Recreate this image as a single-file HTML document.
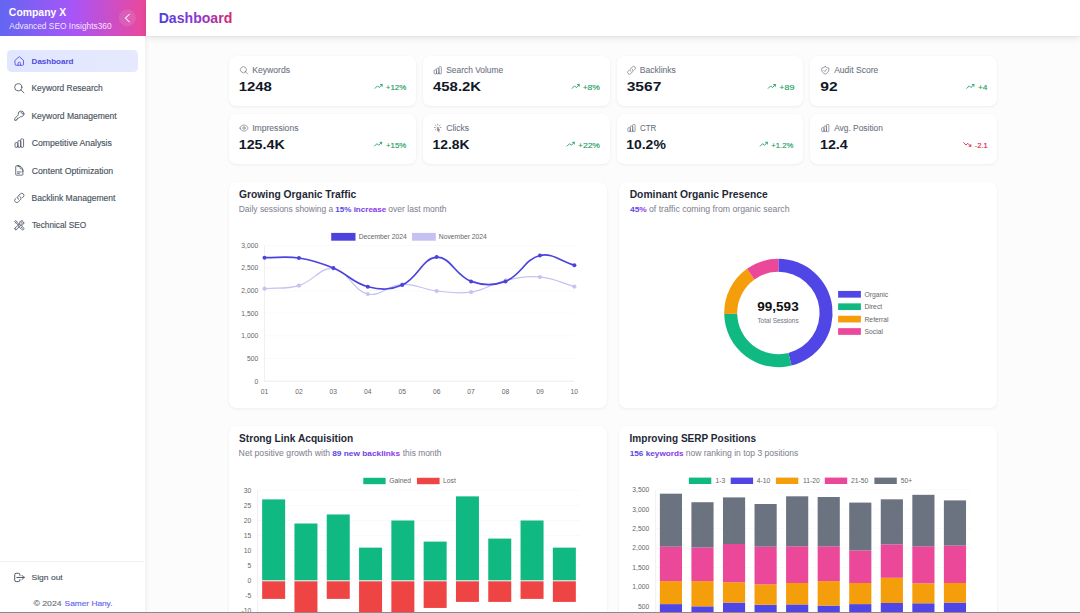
<!DOCTYPE html>
<html><head><meta charset="utf-8"><style>
html,body{margin:0;padding:0;}
body{width:1080px;height:613px;overflow:hidden;position:relative;background:#fcfcfc;font-family:"Liberation Sans", sans-serif;}
svg text{font-family:"Liberation Sans", sans-serif;}
</style></head><body>
<div style="position:absolute;left:0px;top:0px;width:145px;height:613px;background:#fff;box-shadow:1px 0 4px rgba(0,0,0,0.07);z-index:1;"></div><div style="position:absolute;left:0px;top:0px;width:145.6px;height:35.8px;background:linear-gradient(90deg,#6366f1 0%,#a855f7 50%,#ec4899 100%);z-index:1;"></div><div style="position:absolute;left:145.5px;top:0px;width:934.5px;height:36px;background:#fff;box-shadow:0 1px 2px rgba(0,0,0,0.06),0 3px 7px rgba(0,0,0,0.07);z-index:2;"></div><div style="position:absolute;left:7px;top:50px;width:131px;height:22px;background:linear-gradient(90deg,#e0e7ff,#e6e9fd);border-radius:4.5px;z-index:1;"></div><div style="position:absolute;left:0px;top:560.5px;width:144px;height:0.8px;background:#eef0f2;z-index:1;"></div><div style="position:absolute;left:229.4px;top:55.75px;width:186.8px;height:50px;background:#fff;border-radius:6.75px;box-shadow:0 1px 3px rgba(0,0,0,0.06),0 0 1px rgba(0,0,0,0.04);"></div><div style="position:absolute;left:423.0px;top:55.75px;width:186.8px;height:50px;background:#fff;border-radius:6.75px;box-shadow:0 1px 3px rgba(0,0,0,0.06),0 0 1px rgba(0,0,0,0.04);"></div><div style="position:absolute;left:616.6px;top:55.75px;width:186.8px;height:50px;background:#fff;border-radius:6.75px;box-shadow:0 1px 3px rgba(0,0,0,0.06),0 0 1px rgba(0,0,0,0.04);"></div><div style="position:absolute;left:810.2px;top:55.75px;width:186.8px;height:50px;background:#fff;border-radius:6.75px;box-shadow:0 1px 3px rgba(0,0,0,0.06),0 0 1px rgba(0,0,0,0.04);"></div><div style="position:absolute;left:229.4px;top:113.5px;width:186.8px;height:50px;background:#fff;border-radius:6.75px;box-shadow:0 1px 3px rgba(0,0,0,0.06),0 0 1px rgba(0,0,0,0.04);"></div><div style="position:absolute;left:423.0px;top:113.5px;width:186.8px;height:50px;background:#fff;border-radius:6.75px;box-shadow:0 1px 3px rgba(0,0,0,0.06),0 0 1px rgba(0,0,0,0.04);"></div><div style="position:absolute;left:616.6px;top:113.5px;width:186.8px;height:50px;background:#fff;border-radius:6.75px;box-shadow:0 1px 3px rgba(0,0,0,0.06),0 0 1px rgba(0,0,0,0.04);"></div><div style="position:absolute;left:810.2px;top:113.5px;width:186.8px;height:50px;background:#fff;border-radius:6.75px;box-shadow:0 1px 3px rgba(0,0,0,0.06),0 0 1px rgba(0,0,0,0.04);"></div><div style="position:absolute;left:229.4px;top:182px;width:377.8px;height:226px;background:#fff;border-radius:6.75px;box-shadow:0 1px 3px rgba(0,0,0,0.06),0 0 1px rgba(0,0,0,0.04);"></div><div style="position:absolute;left:619.2px;top:182px;width:377.8px;height:226px;background:#fff;border-radius:6.75px;box-shadow:0 1px 3px rgba(0,0,0,0.06),0 0 1px rgba(0,0,0,0.04);"></div><div style="position:absolute;left:229.4px;top:426px;width:377.8px;height:260px;background:#fff;border-radius:6.75px;box-shadow:0 1px 3px rgba(0,0,0,0.06),0 0 1px rgba(0,0,0,0.04);"></div><div style="position:absolute;left:619.2px;top:426px;width:377.8px;height:260px;background:#fff;border-radius:6.75px;box-shadow:0 1px 3px rgba(0,0,0,0.06),0 0 1px rgba(0,0,0,0.04);"></div><div style="position:absolute;left:0px;top:612px;width:1080px;height:1px;background:#8a8a8a;z-index:5;"></div>
<svg width="1080" height="613" viewBox="0 0 1080 613" style="position:absolute;left:0;top:0;z-index:3">
<defs><linearGradient id="hg" gradientUnits="userSpaceOnUse" x1="159.6" x2="231.3" y1="0" y2="0"><stop offset="0" stop-color="#4a43d6"/><stop offset="0.5" stop-color="#8b35d6"/><stop offset="1" stop-color="#cf2a72"/></linearGradient><linearGradient id="g1" gradientUnits="userSpaceOnUse" x1="335.8" x2="386.0" y1="0" y2="0"><stop offset="0" stop-color="#4f46e5"/><stop offset="1" stop-color="#9333ea"/></linearGradient><linearGradient id="g2" gradientUnits="userSpaceOnUse" x1="630.2" x2="646.6" y1="0" y2="0"><stop offset="0" stop-color="#4f46e5"/><stop offset="1" stop-color="#9333ea"/></linearGradient><linearGradient id="g3" gradientUnits="userSpaceOnUse" x1="332.4" x2="399.8" y1="0" y2="0"><stop offset="0" stop-color="#4f46e5"/><stop offset="1" stop-color="#9333ea"/></linearGradient><linearGradient id="g4" gradientUnits="userSpaceOnUse" x1="630.2" x2="683.3" y1="0" y2="0"><stop offset="0" stop-color="#4f46e5"/><stop offset="1" stop-color="#9333ea"/></linearGradient></defs>
<text x="8.86" y="15.90" font-size="11.0" font-weight="700" fill="#fff" textLength="57.31" lengthAdjust="spacingAndGlyphs" >Company X</text><text x="9.30" y="28.60" font-size="8.3" font-weight="400" fill="rgba(255,255,255,0.88)" textLength="102.39" lengthAdjust="spacingAndGlyphs" >Advanced SEO Insights360</text><circle cx="127.3" cy="18.1" r="8.5" fill="rgba(255,255,255,0.10)"/><path d="M129.3 14.4 L125.4 18.1 L129.3 21.9" fill="none" stroke="rgba(255,255,255,0.85)" stroke-width="1.1" stroke-linecap="round" stroke-linejoin="round"/><path d="M3.2 10.6 L12 3 L20.8 10.6 V19.6 A1.6 1.6 0 0 1 19.2 21.2 H4.8 A1.6 1.6 0 0 1 3.2 19.6 Z M9.4 21.2 V17.4 A2.6 2.6 0 0 1 14.6 17.4 V21.2" transform="translate(13.60,55.20) scale(0.4750)" fill="none" stroke="#4f46e5" stroke-width="1.75" stroke-linecap="round" stroke-linejoin="round" /><text x="31.59" y="63.90" font-size="7.85" font-weight="700" fill="#5049e0" textLength="41.95" lengthAdjust="spacingAndGlyphs" >Dashboard</text><path d="M21 21l-6-6m2-5a7 7 0 11-14 0 7 7 0 0114 0z" transform="translate(13.10,82.10) scale(0.5167)" fill="none" stroke="#4b5563" stroke-width="1.65" stroke-linecap="round" stroke-linejoin="round" /><text x="31.45" y="91.30" font-size="8.15" font-weight="400" fill="#4b5563" stroke="#4b5563" stroke-width="0.15" textLength="71.17" lengthAdjust="spacingAndGlyphs" >Keyword Research</text><path d="M15.75 5.25a3 3 0 0 1 3 3m3 0a6 6 0 0 1-7.029 5.912c-.563-.097-1.159.026-1.563.43L10.5 17.25H8.25v2.25H6v2.25H2.25v-2.818c0-.597.237-1.17.659-1.591l6.499-6.499c.404-.404.527-1 .43-1.563A6 6 0 1 1 21.75 8.25Z" transform="translate(13.60,110.00) scale(0.4750)" fill="none" stroke="#4b5563" stroke-width="1.75" stroke-linecap="round" stroke-linejoin="round" /><text x="31.45" y="118.70" font-size="8.15" font-weight="400" fill="#4b5563" stroke="#4b5563" stroke-width="0.15" textLength="85.26" lengthAdjust="spacingAndGlyphs" >Keyword Management</text><path d="M9 19v-6a2 2 0 00-2-2H5a2 2 0 00-2 2v6a2 2 0 002 2h2a2 2 0 002-2zm0 0V9a2 2 0 012-2h2a2 2 0 012 2v10m-6 0a2 2 0 002 2h2a2 2 0 002-2m0 0V5a2 2 0 012-2h2a2 2 0 012 2v14a2 2 0 01-2 2h-2a2 2 0 01-2-2z" transform="translate(13.60,137.40) scale(0.4750)" fill="none" stroke="#4b5563" stroke-width="1.75" stroke-linecap="round" stroke-linejoin="round" /><text x="31.69" y="146.10" font-size="8.15" font-weight="400" fill="#4b5563" stroke="#4b5563" stroke-width="0.15" textLength="80.20" lengthAdjust="spacingAndGlyphs" >Competitive Analysis</text><path d="M19.5 14.25v-2.625a3.375 3.375 0 0 0-3.375-3.375h-1.5A1.125 1.125 0 0 1 13.5 7.125v-1.5a3.375 3.375 0 0 0-3.375-3.375H8.25m0 12.75h7.5m-7.5 3H12M10.5 2.25H5.625c-.621 0-1.125.504-1.125 1.125v17.25c0 .621.504 1.125 1.125 1.125h12.75c.621 0 1.125-.504 1.125-1.125V11.25a9 9 0 0 0-9-9Z" transform="translate(13.60,164.80) scale(0.4750)" fill="none" stroke="#4b5563" stroke-width="1.75" stroke-linecap="round" stroke-linejoin="round" /><text x="31.69" y="173.50" font-size="8.15" font-weight="400" fill="#4b5563" stroke="#4b5563" stroke-width="0.15" textLength="81.52" lengthAdjust="spacingAndGlyphs" >Content Optimization</text><path d="M13.19 8.688a4.5 4.5 0 0 1 1.242 7.244l-4.5 4.5a4.5 4.5 0 0 1-6.364-6.364l1.757-1.757m13.35-.622 1.757-1.757a4.5 4.5 0 0 0-6.364-6.364l-4.5 4.5a4.5 4.5 0 0 0 1.242 7.244" transform="translate(13.60,192.20) scale(0.4750)" fill="none" stroke="#4b5563" stroke-width="1.75" stroke-linecap="round" stroke-linejoin="round" /><text x="31.45" y="200.90" font-size="8.15" font-weight="400" fill="#4b5563" stroke="#4b5563" stroke-width="0.15" textLength="83.98" lengthAdjust="spacingAndGlyphs" >Backlink Management</text><path d="M11.42 15.17 17.25 21A2.652 2.652 0 0 0 21 17.25l-5.877-5.877M11.42 15.17l2.496-3.03c.317-.384.74-.626 1.208-.766M11.42 15.17l-4.655 5.653a2.548 2.548 0 1 1-3.586-3.586l6.837-5.63m5.108-.233c.55-.164 1.163-.188 1.743-.14a4.5 4.5 0 0 0 4.486-6.336l-3.276 3.277a3.004 3.004 0 0 1-2.25-2.25l3.276-3.276a4.5 4.5 0 0 0-6.336 4.486c.091 1.076-.071 2.264-.904 2.95l-.102.085m-1.745 1.437L5.909 7.5H4.5L2.25 3.75l1.5-1.5L7.5 4.5v1.409l4.26 4.26m-1.745 1.437 1.745-1.437m6.615 8.206L15.75 15.75M4.867 19.125h.008v.008h-.008v-.008Z" transform="translate(13.60,219.60) scale(0.4750)" fill="none" stroke="#4b5563" stroke-width="1.75" stroke-linecap="round" stroke-linejoin="round" /><text x="31.94" y="228.30" font-size="8.15" font-weight="400" fill="#4b5563" stroke="#4b5563" stroke-width="0.15" textLength="54.26" lengthAdjust="spacingAndGlyphs" >Technical SEO</text><path d="M17 16l4-4m0 0l-4-4m4 4H7m6 4v1a3 3 0 01-3 3H6a3 3 0 01-3-3V7a3 3 0 013-3h4a3 3 0 013 3v1" transform="translate(13.15,571.20) scale(0.5208)" fill="none" stroke="#4b5563" stroke-width="1.9" stroke-linecap="round" stroke-linejoin="round" /><text x="31.54" y="579.80" font-size="8.0" font-weight="400" fill="#4b5563" stroke="#4b5563" stroke-width="0.15" textLength="31.20" lengthAdjust="spacingAndGlyphs" >Sign out</text><text x="33.48" y="605.70" font-size="7.9" font-weight="400" fill="#6b7280" stroke="#6b7280" stroke-width="0.15" textLength="28.11" lengthAdjust="spacingAndGlyphs" >© 2024</text><text x="64.64" y="605.70" font-size="7.9" font-weight="400" fill="#6366f1" stroke="#6366f1" stroke-width="0.15" textLength="47.84" lengthAdjust="spacingAndGlyphs" >Samer Hany.</text><text x="158.69" y="22.70" font-size="14.0" font-weight="700" fill="url(#hg)" textLength="73.57" lengthAdjust="spacingAndGlyphs" >Dashboard</text><path d="m21 21-5.197-5.197m0 0A7.5 7.5 0 1 0 5.196 5.196a7.5 7.5 0 0 0 10.607 10.607Z" transform="translate(239.20,65.50) scale(0.4000)" fill="none" stroke="#6b7280" stroke-width="1.7" stroke-linecap="round" stroke-linejoin="round" /><text x="252.24" y="72.80" font-size="8.3" font-weight="400" fill="#6b7280" stroke="#6b7280" stroke-width="0.08" textLength="37.86" lengthAdjust="spacingAndGlyphs" >Keywords</text><text x="238.70" y="91.35" font-size="13.3" font-weight="700" fill="#111827" textLength="33.23" lengthAdjust="spacingAndGlyphs" >1248</text><text x="385.85" y="89.95" font-size="7.7" font-weight="400" fill="#1f9d63" stroke="#1f9d63" stroke-width="0.15" textLength="20.42" lengthAdjust="spacingAndGlyphs" >+12%</text><path d="M2 17 L8.5 10.5 L13 15 L21 7 M16.5 7 H21 V11.5" transform="translate(374.29,81.95) scale(0.3750)" fill="none" stroke="#1f9d63" stroke-width="2.4" stroke-linecap="round" stroke-linejoin="round" /><path d="M9 19v-6a2 2 0 00-2-2H5a2 2 0 00-2 2v6a2 2 0 002 2h2a2 2 0 002-2zm0 0V9a2 2 0 012-2h2a2 2 0 012 2v10m-6 0a2 2 0 002 2h2a2 2 0 002-2m0 0V5a2 2 0 012-2h2a2 2 0 012 2v14a2 2 0 01-2 2h-2a2 2 0 01-2-2z" transform="translate(432.95,65.50) scale(0.4000)" fill="none" stroke="#6b7280" stroke-width="1.7" stroke-linecap="round" stroke-linejoin="round" /><text x="446.28" y="72.80" font-size="8.3" font-weight="400" fill="#6b7280" stroke="#6b7280" stroke-width="0.08" textLength="56.87" lengthAdjust="spacingAndGlyphs" >Search Volume</text><text x="433.05" y="91.35" font-size="13.3" font-weight="700" fill="#111827" textLength="48.01" lengthAdjust="spacingAndGlyphs" >458.2K</text><text x="582.65" y="89.95" font-size="7.7" font-weight="400" fill="#1f9d63" stroke="#1f9d63" stroke-width="0.15" textLength="17.31" lengthAdjust="spacingAndGlyphs" >+8%</text><path d="M2 17 L8.5 10.5 L13 15 L21 7 M16.5 7 H21 V11.5" transform="translate(571.39,81.95) scale(0.3750)" fill="none" stroke="#1f9d63" stroke-width="2.4" stroke-linecap="round" stroke-linejoin="round" /><path d="M13.19 8.688a4.5 4.5 0 0 1 1.242 7.244l-4.5 4.5a4.5 4.5 0 0 1-6.364-6.364l1.757-1.757m13.35-.622 1.757-1.757a4.5 4.5 0 0 0-6.364-6.364l-4.5 4.5a4.5 4.5 0 0 0 1.242 7.244" transform="translate(626.70,65.50) scale(0.4000)" fill="none" stroke="#6b7280" stroke-width="1.7" stroke-linecap="round" stroke-linejoin="round" /><text x="639.74" y="72.80" font-size="8.3" font-weight="400" fill="#6b7280" stroke="#6b7280" stroke-width="0.08" textLength="36.14" lengthAdjust="spacingAndGlyphs" >Backlinks</text><text x="626.73" y="91.35" font-size="13.3" font-weight="700" fill="#111827" textLength="34.59" lengthAdjust="spacingAndGlyphs" >3567</text><text x="779.35" y="89.95" font-size="7.7" font-weight="400" fill="#1f9d63" stroke="#1f9d63" stroke-width="0.15" textLength="15.00" lengthAdjust="spacingAndGlyphs" >+89</text><path d="M2 17 L8.5 10.5 L13 15 L21 7 M16.5 7 H21 V11.5" transform="translate(767.49,81.95) scale(0.3750)" fill="none" stroke="#1f9d63" stroke-width="2.4" stroke-linecap="round" stroke-linejoin="round" /><path d="M9 12.75 11.25 15 15 9.75m-3-7.036A11.959 11.959 0 0 1 3.598 6 11.99 11.99 0 0 0 3 9.749c0 5.592 3.824 10.29 9 11.623 5.176-1.332 9-6.03 9-11.622 0-1.31-.21-2.571-.598-3.751h-.152c-3.196 0-6.1-1.248-8.25-3.285Z" transform="translate(820.45,65.50) scale(0.4000)" fill="none" stroke="#6b7280" stroke-width="1.7" stroke-linecap="round" stroke-linejoin="round" /><text x="834.15" y="72.80" font-size="8.3" font-weight="400" fill="#6b7280" stroke="#6b7280" stroke-width="0.08" textLength="44.08" lengthAdjust="spacingAndGlyphs" >Audit Score</text><text x="820.35" y="91.35" font-size="13.3" font-weight="700" fill="#111827" textLength="17.35" lengthAdjust="spacingAndGlyphs" >92</text><text x="977.95" y="89.95" font-size="7.7" font-weight="400" fill="#1f9d63" stroke="#1f9d63" stroke-width="0.15" textLength="9.54" lengthAdjust="spacingAndGlyphs" >+4</text><path d="M2 17 L8.5 10.5 L13 15 L21 7 M16.5 7 H21 V11.5" transform="translate(966.09,81.95) scale(0.3750)" fill="none" stroke="#1f9d63" stroke-width="2.4" stroke-linecap="round" stroke-linejoin="round" /><path d="M2.036 12.322a1.012 1.012 0 0 1 0-.639C3.423 7.51 7.36 4.5 12 4.5c4.638 0 8.573 3.007 9.963 7.178.07.207.07.431 0 .639C20.577 16.49 16.64 19.5 12 19.5c-4.638 0-8.573-3.007-9.963-7.178ZM15 12a3 3 0 1 1-6 0 3 3 0 0 1 6 0Z" transform="translate(239.20,123.25) scale(0.4000)" fill="none" stroke="#6b7280" stroke-width="1.7" stroke-linecap="round" stroke-linejoin="round" /><text x="252.15" y="130.55" font-size="8.3" font-weight="400" fill="#6b7280" stroke="#6b7280" stroke-width="0.08" textLength="46.34" lengthAdjust="spacingAndGlyphs" >Impressions</text><text x="238.70" y="149.10" font-size="13.3" font-weight="700" fill="#111827" textLength="46.16" lengthAdjust="spacingAndGlyphs" >125.4K</text><text x="386.05" y="147.70" font-size="7.7" font-weight="400" fill="#1f9d63" stroke="#1f9d63" stroke-width="0.15" textLength="20.22" lengthAdjust="spacingAndGlyphs" >+15%</text><path d="M2 17 L8.5 10.5 L13 15 L21 7 M16.5 7 H21 V11.5" transform="translate(373.79,139.70) scale(0.3750)" fill="none" stroke="#1f9d63" stroke-width="2.4" stroke-linecap="round" stroke-linejoin="round" /><path d="M15.042 21.672 13.684 16.6m0 0-2.51 2.225.569-9.47 5.227 7.917-3.286-.672ZM12 2.25V4.5m5.834.166-1.591 1.591M20.25 10.5H18M7.757 14.743l-1.59 1.59M6 10.5H3.75m4.007-4.243-1.59-1.59" transform="translate(432.95,123.25) scale(0.4000)" fill="none" stroke="#6b7280" stroke-width="1.7" stroke-linecap="round" stroke-linejoin="round" /><text x="446.23" y="130.55" font-size="8.3" font-weight="400" fill="#6b7280" stroke="#6b7280" stroke-width="0.08" textLength="22.77" lengthAdjust="spacingAndGlyphs" >Clicks</text><text x="432.45" y="149.10" font-size="13.3" font-weight="700" fill="#111827" textLength="37.06" lengthAdjust="spacingAndGlyphs" >12.8K</text><text x="577.95" y="147.70" font-size="7.7" font-weight="400" fill="#1f9d63" stroke="#1f9d63" stroke-width="0.15" textLength="22.02" lengthAdjust="spacingAndGlyphs" >+22%</text><path d="M2 17 L8.5 10.5 L13 15 L21 7 M16.5 7 H21 V11.5" transform="translate(566.39,139.70) scale(0.3750)" fill="none" stroke="#1f9d63" stroke-width="2.4" stroke-linecap="round" stroke-linejoin="round" /><path d="M9 19v-6a2 2 0 00-2-2H5a2 2 0 00-2 2v6a2 2 0 002 2h2a2 2 0 002-2zm0 0V9a2 2 0 012-2h2a2 2 0 012 2v10m-6 0a2 2 0 002 2h2a2 2 0 002-2m0 0V5a2 2 0 012-2h2a2 2 0 012 2v14a2 2 0 01-2 2h-2a2 2 0 01-2-2z" transform="translate(626.70,123.25) scale(0.4000)" fill="none" stroke="#6b7280" stroke-width="1.7" stroke-linecap="round" stroke-linejoin="round" /><text x="639.99" y="130.55" font-size="8.3" font-weight="400" fill="#6b7280" stroke="#6b7280" stroke-width="0.08" textLength="16.25" lengthAdjust="spacingAndGlyphs" >CTR</text><text x="626.20" y="149.10" font-size="13.3" font-weight="700" fill="#111827" textLength="39.64" lengthAdjust="spacingAndGlyphs" >10.2%</text><text x="771.25" y="147.70" font-size="7.7" font-weight="400" fill="#1f9d63" stroke="#1f9d63" stroke-width="0.15" textLength="22.00" lengthAdjust="spacingAndGlyphs" >+1.2%</text><path d="M2 17 L8.5 10.5 L13 15 L21 7 M16.5 7 H21 V11.5" transform="translate(759.49,139.70) scale(0.3750)" fill="none" stroke="#1f9d63" stroke-width="2.4" stroke-linecap="round" stroke-linejoin="round" /><path d="M9 19v-6a2 2 0 00-2-2H5a2 2 0 00-2 2v6a2 2 0 002 2h2a2 2 0 002-2zm0 0V9a2 2 0 012-2h2a2 2 0 012 2v10m-6 0a2 2 0 002 2h2a2 2 0 002-2m0 0V5a2 2 0 012-2h2a2 2 0 012 2v14a2 2 0 01-2 2h-2a2 2 0 01-2-2z" transform="translate(820.45,123.25) scale(0.4000)" fill="none" stroke="#6b7280" stroke-width="1.7" stroke-linecap="round" stroke-linejoin="round" /><text x="834.15" y="130.55" font-size="8.3" font-weight="400" fill="#6b7280" stroke="#6b7280" stroke-width="0.08" textLength="48.78" lengthAdjust="spacingAndGlyphs" >Avg. Position</text><text x="819.95" y="149.10" font-size="13.3" font-weight="700" fill="#111827" textLength="27.87" lengthAdjust="spacingAndGlyphs" >12.4</text><text x="974.69" y="147.70" font-size="7.7" font-weight="400" fill="#e11d48" stroke="#e11d48" stroke-width="0.15" textLength="12.98" lengthAdjust="spacingAndGlyphs" >-2.1</text><path d="M2 7 L8.5 13.5 L13 9 L21 17 M16.5 17 H21 V12.5" transform="translate(962.89,139.95) scale(0.3750)" fill="none" stroke="#e11d48" stroke-width="2.4" stroke-linecap="round" stroke-linejoin="round" /><text x="239.00" y="198.20" font-size="10.0" font-weight="700" fill="#1f2937" textLength="117.26" lengthAdjust="spacingAndGlyphs" >Growing Organic Traffic</text><text x="238.74" y="211.70" font-size="8.2" font-weight="400" fill="#7f8490" stroke="#7f8490" stroke-width="0.04" textLength="94.53" lengthAdjust="spacingAndGlyphs" >Daily sessions showing a</text><text x="335.33" y="211.70" font-size="7.9" font-weight="700" fill="url(#g1)" textLength="50.93" lengthAdjust="spacingAndGlyphs" >15% increase</text><text x="388.37" y="211.70" font-size="8.2" font-weight="400" fill="#7f8490" stroke="#7f8490" stroke-width="0.04" textLength="58.23" lengthAdjust="spacingAndGlyphs" >over last month</text><text x="629.65" y="198.20" font-size="10.0" font-weight="700" fill="#1f2937" textLength="138.08" lengthAdjust="spacingAndGlyphs" >Dominant Organic Presence</text><text x="630.08" y="211.70" font-size="7.9" font-weight="700" fill="url(#g2)" textLength="16.73" lengthAdjust="spacingAndGlyphs" >45%</text><text x="648.97" y="211.70" font-size="8.2" font-weight="400" fill="#7f8490" stroke="#7f8490" stroke-width="0.04" textLength="140.52" lengthAdjust="spacingAndGlyphs" >of traffic coming from organic search</text><text x="239.05" y="442.40" font-size="10.0" font-weight="700" fill="#1f2937" textLength="114.15" lengthAdjust="spacingAndGlyphs" >Strong Link Acquisition</text><text x="238.64" y="455.50" font-size="8.2" font-weight="400" fill="#7f8490" stroke="#7f8490" stroke-width="0.04" textLength="91.55" lengthAdjust="spacingAndGlyphs" >Net positive growth with</text><text x="332.16" y="455.50" font-size="7.9" font-weight="700" fill="url(#g3)" textLength="67.92" lengthAdjust="spacingAndGlyphs" >89 new backlinks</text><text x="402.78" y="455.50" font-size="8.2" font-weight="400" fill="#7f8490" stroke="#7f8490" stroke-width="0.04" textLength="38.74" lengthAdjust="spacingAndGlyphs" >this month</text><text x="629.55" y="442.30" font-size="10.0" font-weight="700" fill="#1f2937" textLength="126.50" lengthAdjust="spacingAndGlyphs" >Improving SERP Positions</text><text x="629.73" y="455.50" font-size="7.9" font-weight="700" fill="url(#g4)" textLength="53.85" lengthAdjust="spacingAndGlyphs" >156 keywords</text><text x="685.67" y="455.50" font-size="8.2" font-weight="400" fill="#7f8490" stroke="#7f8490" stroke-width="0.04" textLength="112.72" lengthAdjust="spacingAndGlyphs" >now ranking in top 3 positions</text><line x1="264.5" x2="574.37" y1="381.20" y2="381.20" stroke="rgba(0,0,0,0.045)" stroke-width="0.6"/><text x="258.20" y="383.60" font-size="6.75" font-weight="400" fill="#666" text-anchor="end" >0</text><line x1="264.5" x2="574.37" y1="358.57" y2="358.57" stroke="rgba(0,0,0,0.045)" stroke-width="0.6"/><text x="258.20" y="360.97" font-size="6.75" font-weight="400" fill="#666" text-anchor="end" >500</text><line x1="264.5" x2="574.37" y1="335.94" y2="335.94" stroke="rgba(0,0,0,0.045)" stroke-width="0.6"/><text x="258.20" y="338.34" font-size="6.75" font-weight="400" fill="#666" text-anchor="end" >1,000</text><line x1="264.5" x2="574.37" y1="313.31" y2="313.31" stroke="rgba(0,0,0,0.045)" stroke-width="0.6"/><text x="258.20" y="315.71" font-size="6.75" font-weight="400" fill="#666" text-anchor="end" >1,500</text><line x1="264.5" x2="574.37" y1="290.68" y2="290.68" stroke="rgba(0,0,0,0.045)" stroke-width="0.6"/><text x="258.20" y="293.08" font-size="6.75" font-weight="400" fill="#666" text-anchor="end" >2,000</text><line x1="264.5" x2="574.37" y1="268.05" y2="268.05" stroke="rgba(0,0,0,0.045)" stroke-width="0.6"/><text x="258.20" y="270.45" font-size="6.75" font-weight="400" fill="#666" text-anchor="end" >2,500</text><line x1="264.5" x2="574.37" y1="245.42" y2="245.42" stroke="rgba(0,0,0,0.045)" stroke-width="0.6"/><text x="258.20" y="247.82" font-size="6.75" font-weight="400" fill="#666" text-anchor="end" >3,000</text><line x1="264.5" x2="264.5" y1="245.42" y2="381.2" stroke="rgba(0,0,0,0.1)" stroke-width="0.6"/><line x1="264.5" x2="574.37" y1="381.2" y2="381.2" stroke="rgba(0,0,0,0.1)" stroke-width="0.6"/><text x="264.50" y="394.00" font-size="6.75" font-weight="400" fill="#666" text-anchor="middle" >01</text><text x="298.93" y="394.00" font-size="6.75" font-weight="400" fill="#666" text-anchor="middle" >02</text><text x="333.36" y="394.00" font-size="6.75" font-weight="400" fill="#666" text-anchor="middle" >03</text><text x="367.79" y="394.00" font-size="6.75" font-weight="400" fill="#666" text-anchor="middle" >04</text><text x="402.22" y="394.00" font-size="6.75" font-weight="400" fill="#666" text-anchor="middle" >05</text><text x="436.65" y="394.00" font-size="6.75" font-weight="400" fill="#666" text-anchor="middle" >06</text><text x="471.08" y="394.00" font-size="6.75" font-weight="400" fill="#666" text-anchor="middle" >07</text><text x="505.51" y="394.00" font-size="6.75" font-weight="400" fill="#666" text-anchor="middle" >08</text><text x="539.94" y="394.00" font-size="6.75" font-weight="400" fill="#666" text-anchor="middle" >09</text><text x="574.37" y="394.00" font-size="6.75" font-weight="400" fill="#666" text-anchor="middle" >10</text><path d="M264.50,288.64 C278.27,287.43 285.89,289.42 298.93,285.61 C313.43,281.37 320.34,266.90 333.36,268.50 C347.88,270.29 352.77,290.62 367.79,294.07 C380.32,296.96 388.31,284.97 402.22,284.34 C415.85,283.73 422.76,289.42 436.65,291.00 C450.30,292.55 457.68,294.22 471.08,292.17 C485.22,290.02 491.40,283.61 505.51,280.50 C518.94,277.53 526.39,275.76 539.94,276.97 C553.94,278.21 560.60,282.75 574.37,286.61" fill="none" stroke="#c5c2f1" stroke-width="1.2"/><circle cx="264.50" cy="288.64" r="1.8" fill="#c5c2f1" stroke="#c1bdf0" stroke-width="0.5"/><circle cx="298.93" cy="285.61" r="1.8" fill="#c5c2f1" stroke="#c1bdf0" stroke-width="0.5"/><circle cx="333.36" cy="268.50" r="1.8" fill="#c5c2f1" stroke="#c1bdf0" stroke-width="0.5"/><circle cx="367.79" cy="294.07" r="1.8" fill="#c5c2f1" stroke="#c1bdf0" stroke-width="0.5"/><circle cx="402.22" cy="284.34" r="1.8" fill="#c5c2f1" stroke="#c1bdf0" stroke-width="0.5"/><circle cx="436.65" cy="291.00" r="1.8" fill="#c5c2f1" stroke="#c1bdf0" stroke-width="0.5"/><circle cx="471.08" cy="292.17" r="1.8" fill="#c5c2f1" stroke="#c1bdf0" stroke-width="0.5"/><circle cx="505.51" cy="280.50" r="1.8" fill="#c5c2f1" stroke="#c1bdf0" stroke-width="0.5"/><circle cx="539.94" cy="276.97" r="1.8" fill="#c5c2f1" stroke="#c1bdf0" stroke-width="0.5"/><circle cx="574.37" cy="286.61" r="1.8" fill="#c5c2f1" stroke="#c1bdf0" stroke-width="0.5"/><path d="M264.50,257.64 C278.27,257.79 285.44,255.96 298.93,258.00 C312.98,260.13 320.20,262.56 333.36,268.05 C347.74,274.05 353.14,283.13 367.79,286.74 C380.68,289.92 390.17,290.21 402.22,285.02 C417.71,278.35 422.53,257.84 436.65,257.10 C450.07,256.39 455.92,276.05 471.08,281.40 C483.46,285.77 493.28,286.01 505.51,281.40 C520.82,275.63 524.89,259.00 539.94,255.47 C552.44,252.54 560.60,261.33 574.37,265.24" fill="none" stroke="#4b43dc" stroke-width="1.7"/><circle cx="264.50" cy="257.64" r="2.0" fill="#4b43dc"/><circle cx="298.93" cy="258.00" r="2.0" fill="#4b43dc"/><circle cx="333.36" cy="268.05" r="2.0" fill="#4b43dc"/><circle cx="367.79" cy="286.74" r="2.0" fill="#4b43dc"/><circle cx="402.22" cy="285.02" r="2.0" fill="#4b43dc"/><circle cx="436.65" cy="257.10" r="2.0" fill="#4b43dc"/><circle cx="471.08" cy="281.40" r="2.0" fill="#4b43dc"/><circle cx="505.51" cy="281.40" r="2.0" fill="#4b43dc"/><circle cx="539.94" cy="255.47" r="2.0" fill="#4b43dc"/><circle cx="574.37" cy="265.24" r="2.0" fill="#4b43dc"/><rect x="331.2" y="232.9" width="24.3" height="7.8" fill="#4b43dc"/><text x="358.70" y="239.20" font-size="6.75" font-weight="400" fill="#666" text-anchor="start" >December 2024</text><rect x="412" y="232.9" width="23.8" height="7.8" fill="#c5c2f1"/><text x="438.80" y="239.20" font-size="6.75" font-weight="400" fill="#666" text-anchor="start" >November 2024</text><path d="M778.40,258.80 A54.2,54.2 0 0 1 791.51,365.59 L788.37,352.98 A41.2,41.2 0 0 0 778.40,271.80 Z" fill="#4f46e5"/><path d="M791.51,365.59 A54.2,54.2 0 0 1 724.21,313.95 L737.21,313.72 A41.2,41.2 0 0 0 788.37,352.98 Z" fill="#10b981"/><path d="M724.21,313.95 A54.2,54.2 0 0 1 746.93,268.87 L754.48,279.46 A41.2,41.2 0 0 0 737.21,313.72 Z" fill="#f59e0b"/><path d="M746.93,268.87 A54.2,54.2 0 0 1 778.40,258.80 L778.40,271.80 A41.2,41.2 0 0 0 754.48,279.46 Z" fill="#ec4899"/><text x="778.00" y="311.10" font-size="13.5" font-weight="700" fill="#111" text-anchor="middle" >99,593</text><text x="778.00" y="322.90" font-size="6.4" font-weight="400" fill="#6b7280" text-anchor="middle" >Total Sessions</text><rect x="838.1" y="290.95" width="22.8" height="6.7" fill="#4f46e5"/><text x="864.50" y="296.70" font-size="6.75" font-weight="400" fill="#666" text-anchor="start" >Organic</text><rect x="838.1" y="303.35" width="22.8" height="6.7" fill="#10b981"/><text x="864.50" y="309.10" font-size="6.75" font-weight="400" fill="#666" text-anchor="start" >Direct</text><rect x="838.1" y="315.75" width="22.8" height="6.7" fill="#f59e0b"/><text x="864.50" y="321.50" font-size="6.75" font-weight="400" fill="#666" text-anchor="start" >Referral</text><rect x="838.1" y="328.15" width="22.8" height="6.7" fill="#ec4899"/><text x="864.50" y="333.90" font-size="6.75" font-weight="400" fill="#666" text-anchor="start" >Social</text><line x1="257.5" x2="580.50" y1="610.95" y2="610.95" stroke="rgba(0,0,0,0.045)" stroke-width="0.6"/><text x="251.20" y="613.35" font-size="6.75" font-weight="400" fill="#666" text-anchor="end" >-10</text><line x1="257.5" x2="580.50" y1="595.88" y2="595.88" stroke="rgba(0,0,0,0.045)" stroke-width="0.6"/><text x="251.20" y="598.27" font-size="6.75" font-weight="400" fill="#666" text-anchor="end" >-5</text><line x1="257.5" x2="580.50" y1="580.80" y2="580.80" stroke="rgba(0,0,0,0.045)" stroke-width="0.6"/><text x="251.20" y="583.20" font-size="6.75" font-weight="400" fill="#666" text-anchor="end" >0</text><line x1="257.5" x2="580.50" y1="565.72" y2="565.72" stroke="rgba(0,0,0,0.045)" stroke-width="0.6"/><text x="251.20" y="568.12" font-size="6.75" font-weight="400" fill="#666" text-anchor="end" >5</text><line x1="257.5" x2="580.50" y1="550.65" y2="550.65" stroke="rgba(0,0,0,0.045)" stroke-width="0.6"/><text x="251.20" y="553.05" font-size="6.75" font-weight="400" fill="#666" text-anchor="end" >10</text><line x1="257.5" x2="580.50" y1="535.57" y2="535.57" stroke="rgba(0,0,0,0.045)" stroke-width="0.6"/><text x="251.20" y="537.97" font-size="6.75" font-weight="400" fill="#666" text-anchor="end" >15</text><line x1="257.5" x2="580.50" y1="520.50" y2="520.50" stroke="rgba(0,0,0,0.045)" stroke-width="0.6"/><text x="251.20" y="522.90" font-size="6.75" font-weight="400" fill="#666" text-anchor="end" >20</text><line x1="257.5" x2="580.50" y1="505.42" y2="505.42" stroke="rgba(0,0,0,0.045)" stroke-width="0.6"/><text x="251.20" y="507.82" font-size="6.75" font-weight="400" fill="#666" text-anchor="end" >25</text><line x1="257.5" x2="580.50" y1="490.35" y2="490.35" stroke="rgba(0,0,0,0.045)" stroke-width="0.6"/><text x="251.20" y="492.75" font-size="6.75" font-weight="400" fill="#666" text-anchor="end" >30</text><line x1="257.5" x2="257.5" y1="490.35" y2="613" stroke="rgba(0,0,0,0.1)" stroke-width="0.6"/><rect x="262.15" y="499.39" width="23.0" height="80.91" fill="#10b981"/><rect x="262.15" y="581.30" width="23.0" height="17.59" fill="#ef4444"/><rect x="294.45" y="523.51" width="23.0" height="56.79" fill="#10b981"/><rect x="294.45" y="581.30" width="23.0" height="35.68" fill="#ef4444"/><rect x="326.75" y="514.47" width="23.0" height="65.83" fill="#10b981"/><rect x="326.75" y="581.30" width="23.0" height="17.59" fill="#ef4444"/><rect x="359.05" y="547.63" width="23.0" height="32.66" fill="#10b981"/><rect x="359.05" y="581.30" width="23.0" height="35.68" fill="#ef4444"/><rect x="391.35" y="520.50" width="23.0" height="59.80" fill="#10b981"/><rect x="391.35" y="581.30" width="23.0" height="35.68" fill="#ef4444"/><rect x="423.65" y="541.60" width="23.0" height="38.70" fill="#10b981"/><rect x="423.65" y="581.30" width="23.0" height="26.64" fill="#ef4444"/><rect x="455.95" y="496.38" width="23.0" height="83.92" fill="#10b981"/><rect x="455.95" y="581.30" width="23.0" height="20.61" fill="#ef4444"/><rect x="488.25" y="538.59" width="23.0" height="41.71" fill="#10b981"/><rect x="488.25" y="581.30" width="23.0" height="20.61" fill="#ef4444"/><rect x="520.55" y="520.50" width="23.0" height="59.80" fill="#10b981"/><rect x="520.55" y="581.30" width="23.0" height="17.59" fill="#ef4444"/><rect x="552.85" y="547.63" width="23.0" height="32.66" fill="#10b981"/><rect x="552.85" y="581.30" width="23.0" height="20.61" fill="#ef4444"/><rect x="363.3" y="477.8" width="22.3" height="6.4" fill="#10b981"/><text x="389.30" y="483.40" font-size="6.75" font-weight="400" fill="#666" text-anchor="start" >Gained</text><rect x="417" y="477.8" width="22.6" height="6.4" fill="#ef4444"/><text x="443.00" y="483.40" font-size="6.75" font-weight="400" fill="#666" text-anchor="start" >Lost</text><line x1="655.7" x2="971.30" y1="606.20" y2="606.20" stroke="rgba(0,0,0,0.045)" stroke-width="0.6"/><text x="649.20" y="608.60" font-size="6.75" font-weight="400" fill="#666" text-anchor="end" >500</text><line x1="655.7" x2="971.30" y1="586.80" y2="586.80" stroke="rgba(0,0,0,0.045)" stroke-width="0.6"/><text x="649.20" y="589.20" font-size="6.75" font-weight="400" fill="#666" text-anchor="end" >1,000</text><line x1="655.7" x2="971.30" y1="567.40" y2="567.40" stroke="rgba(0,0,0,0.045)" stroke-width="0.6"/><text x="649.20" y="569.80" font-size="6.75" font-weight="400" fill="#666" text-anchor="end" >1,500</text><line x1="655.7" x2="971.30" y1="548.00" y2="548.00" stroke="rgba(0,0,0,0.045)" stroke-width="0.6"/><text x="649.20" y="550.40" font-size="6.75" font-weight="400" fill="#666" text-anchor="end" >2,000</text><line x1="655.7" x2="971.30" y1="528.60" y2="528.60" stroke="rgba(0,0,0,0.045)" stroke-width="0.6"/><text x="649.20" y="531.00" font-size="6.75" font-weight="400" fill="#666" text-anchor="end" >2,500</text><line x1="655.7" x2="971.30" y1="509.20" y2="509.20" stroke="rgba(0,0,0,0.045)" stroke-width="0.6"/><text x="649.20" y="511.60" font-size="6.75" font-weight="400" fill="#666" text-anchor="end" >3,000</text><line x1="655.7" x2="971.30" y1="489.80" y2="489.80" stroke="rgba(0,0,0,0.045)" stroke-width="0.6"/><text x="649.20" y="492.20" font-size="6.75" font-weight="400" fill="#666" text-anchor="end" >3,500</text><line x1="655.7" x2="655.7" y1="489.80" y2="613" stroke="rgba(0,0,0,0.1)" stroke-width="0.6"/><rect x="659.85" y="619.78" width="22.15" height="5.82" fill="#10b981"/><rect x="659.85" y="604.10" width="22.15" height="15.68" fill="#4f46e5"/><rect x="659.85" y="581.10" width="22.15" height="23.01" fill="#f59e0b"/><rect x="659.85" y="546.68" width="22.15" height="34.42" fill="#ec4899"/><rect x="659.85" y="493.68" width="22.15" height="53.00" fill="#6b7280"/><rect x="691.41" y="619.78" width="22.15" height="5.82" fill="#10b981"/><rect x="691.41" y="606.32" width="22.15" height="13.46" fill="#4f46e5"/><rect x="691.41" y="581.10" width="22.15" height="25.22" fill="#f59e0b"/><rect x="691.41" y="547.38" width="22.15" height="33.72" fill="#ec4899"/><rect x="691.41" y="502.22" width="22.15" height="45.16" fill="#6b7280"/><rect x="722.97" y="619.78" width="22.15" height="5.82" fill="#10b981"/><rect x="722.97" y="602.59" width="22.15" height="17.19" fill="#4f46e5"/><rect x="722.97" y="582.22" width="22.15" height="20.37" fill="#f59e0b"/><rect x="722.97" y="544.00" width="22.15" height="38.22" fill="#ec4899"/><rect x="722.97" y="497.40" width="22.15" height="46.60" fill="#6b7280"/><rect x="754.53" y="619.78" width="22.15" height="5.82" fill="#10b981"/><rect x="754.53" y="604.80" width="22.15" height="14.98" fill="#4f46e5"/><rect x="754.53" y="584.39" width="22.15" height="20.41" fill="#f59e0b"/><rect x="754.53" y="546.68" width="22.15" height="37.71" fill="#ec4899"/><rect x="754.53" y="504.00" width="22.15" height="42.68" fill="#6b7280"/><rect x="786.09" y="619.78" width="22.15" height="5.82" fill="#10b981"/><rect x="786.09" y="604.42" width="22.15" height="15.36" fill="#4f46e5"/><rect x="786.09" y="583.00" width="22.15" height="21.42" fill="#f59e0b"/><rect x="786.09" y="546.29" width="22.15" height="36.70" fill="#ec4899"/><rect x="786.09" y="496.32" width="22.15" height="49.97" fill="#6b7280"/><rect x="817.65" y="619.78" width="22.15" height="5.82" fill="#10b981"/><rect x="817.65" y="605.58" width="22.15" height="14.20" fill="#4f46e5"/><rect x="817.65" y="581.10" width="22.15" height="24.48" fill="#f59e0b"/><rect x="817.65" y="546.29" width="22.15" height="34.80" fill="#ec4899"/><rect x="817.65" y="497.02" width="22.15" height="49.28" fill="#6b7280"/><rect x="849.21" y="619.78" width="22.15" height="5.82" fill="#10b981"/><rect x="849.21" y="604.10" width="22.15" height="15.68" fill="#4f46e5"/><rect x="849.21" y="583.00" width="22.15" height="21.11" fill="#f59e0b"/><rect x="849.21" y="550.41" width="22.15" height="32.59" fill="#ec4899"/><rect x="849.21" y="502.60" width="22.15" height="47.80" fill="#6b7280"/><rect x="880.77" y="619.78" width="22.15" height="5.82" fill="#10b981"/><rect x="880.77" y="602.98" width="22.15" height="16.80" fill="#4f46e5"/><rect x="880.77" y="577.80" width="22.15" height="25.18" fill="#f59e0b"/><rect x="880.77" y="544.39" width="22.15" height="33.41" fill="#ec4899"/><rect x="880.77" y="499.31" width="22.15" height="45.09" fill="#6b7280"/><rect x="912.33" y="619.78" width="22.15" height="5.82" fill="#10b981"/><rect x="912.33" y="603.29" width="22.15" height="16.49" fill="#4f46e5"/><rect x="912.33" y="583.31" width="22.15" height="19.98" fill="#f59e0b"/><rect x="912.33" y="546.29" width="22.15" height="37.02" fill="#ec4899"/><rect x="912.33" y="494.81" width="22.15" height="51.49" fill="#6b7280"/><rect x="943.89" y="619.78" width="22.15" height="5.82" fill="#10b981"/><rect x="943.89" y="602.59" width="22.15" height="17.19" fill="#4f46e5"/><rect x="943.89" y="583.00" width="22.15" height="19.59" fill="#f59e0b"/><rect x="943.89" y="545.59" width="22.15" height="37.40" fill="#ec4899"/><rect x="943.89" y="500.39" width="22.15" height="45.20" fill="#6b7280"/><rect x="688.9" y="477.6" width="22.4" height="6.4" fill="#10b981"/><text x="715.60" y="483.20" font-size="6.75" font-weight="400" fill="#666" text-anchor="start" >1-3</text><rect x="730.7" y="477.6" width="22.4" height="6.4" fill="#4f46e5"/><text x="756.70" y="483.20" font-size="6.75" font-weight="400" fill="#666" text-anchor="start" >4-10</text><rect x="775.9" y="477.6" width="22.4" height="6.4" fill="#f59e0b"/><text x="803.00" y="483.20" font-size="6.75" font-weight="400" fill="#666" text-anchor="start" >11-20</text><rect x="824.8" y="477.6" width="22.4" height="6.4" fill="#ec4899"/><text x="851.00" y="483.20" font-size="6.75" font-weight="400" fill="#666" text-anchor="start" >21-50</text><rect x="874.4" y="477.6" width="22.4" height="6.4" fill="#6b7280"/><text x="900.70" y="483.20" font-size="6.75" font-weight="400" fill="#666" text-anchor="start" >50+</text>
</svg>
</body></html>
